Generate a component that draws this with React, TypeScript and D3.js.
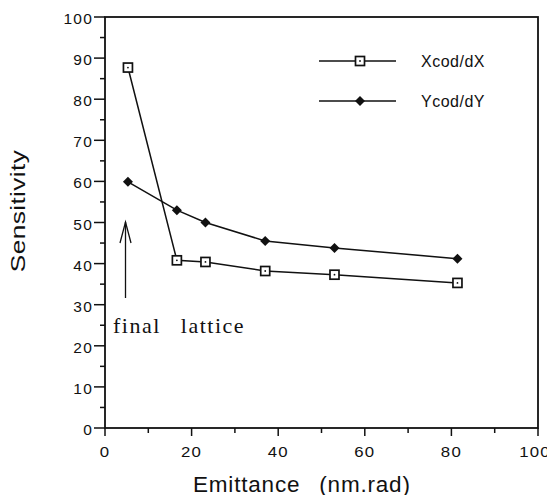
import React, { useEffect, useRef } from "react";
import * as d3 from "d3";

// values
const emittance = [5.3, 16.6, 23.2, 37, 53, 81.4];
const xcodValues = [87.7, 40.8, 40.4, 38.2, 37.3, 35.3];
const ycodValues = [59.9, 53.0, 50.0, 45.5, 43.8, 41.2];
const xTicks = [0, 20, 40, 60, 80, 100];
const yTicks = [0, 10, 20, 30, 40, 50, 60, 70, 80, 90, 100];
const seriesNames = ["Xcod/dX", "Ycod/dY"];

const App = () => {
	const svgRef = useRef<SVGSVGElement>(null);

	useEffect(() => {
		const W = 555;
		const H = 499;
		const margin = { top: 17, right: 17, bottom: 71, left: 105 };
		const width = W - margin.left - margin.right;
		const height = H - margin.top - margin.bottom;

		const root = d3.select(svgRef.current);
		root.selectAll("*").remove();
		root.attr("width", W).attr("height", H);
		root.append("rect").attr("width", W).attr("height", H).attr("fill", "#fff");

		const svg = root.append("g").attr("transform", `translate(${margin.left},${margin.top})`);

		const x = d3.scaleLinear().domain([0, 100]).range([0, width]);
		const y = d3.scaleLinear().domain([0, 100]).range([height, 0]);

		const font = "'Liberation Sans', Arial, sans-serif";

		// frame
		svg.append("rect")
			.attr("width", width)
			.attr("height", height)
			.attr("fill", "none")
			.attr("stroke", "#111")
			.attr("stroke-width", 1.8);

		// y ticks (major + minor)
		d3.range(0, 101, 5).forEach((v) => {
			const major = v % 10 === 0;
			svg.append("line")
				.attr("x1", major ? -11 : -5)
				.attr("x2", 0)
				.attr("y1", y(v))
				.attr("y2", y(v))
				.attr("stroke", "#111")
				.attr("stroke-width", 1.5);
		});
		svg.selectAll(".ylab")
			.data(yTicks)
			.join("text")
			.attr("x", -12)
			.attr("y", (d) => y(d) + 7)
			.attr("text-anchor", "end")
			.style("font-family", font)
			.style("font-size", "15.5px")
			.style("letter-spacing", "1.2px")
			.attr("fill", "#111")
			.text((d) => d);

		// x ticks (major + minor)
		d3.range(0, 101, 10).forEach((v) => {
			const major = v % 20 === 0;
			svg.append("line")
				.attr("x1", x(v))
				.attr("x2", x(v))
				.attr("y1", height)
				.attr("y2", height + (major ? 8 : 5))
				.attr("stroke", "#111")
				.attr("stroke-width", 1.5);
		});
		svg.selectAll(".xlab")
			.data(xTicks)
			.join("text")
			.attr("transform", (d) => `translate(${x(d) - (d === 100 ? 3 : 0)},${height + 28.5}) scale(1.2,1)`)
			.attr("text-anchor", "middle")
			.style("font-family", font)
			.style("font-size", "14px")
			.style("letter-spacing", "1px")
			.attr("fill", "#111")
			.text((d) => d);

		// axis titles
		root.append("text")
			.attr("x", 193)
			.attr("y", 492)
			.style("font-family", font)
			.style("font-size", "22.5px")
			.style("letter-spacing", "0.8px")
			.style("word-spacing", "12px")
			.attr("fill", "#111")
			.text("Emittance (nm.rad)");

		root.append("text")
			.attr("transform", "translate(25,211) rotate(-90) scale(1.25,1)")
			.attr("text-anchor", "middle")
			.style("font-family", font)
			.style("font-size", "21px")
			.style("letter-spacing", "0.3px")
			.attr("fill", "#111")
			.text("Sensitivity");

		const line = d3.line<number>()
			.x((d, i) => x(emittance[i]))
			.y((d) => y(d));

		const series = [xcodValues, ycodValues];
		series.forEach((vals) => {
			svg.append("path")
				.attr("d", line(vals))
				.attr("fill", "none")
				.attr("stroke", "#111")
				.attr("stroke-width", 1.5);
		});

		const drawSquare = (g, cx, cy) => {
			g.append("rect")
				.attr("x", cx - 4.5)
				.attr("y", cy - 4.5)
				.attr("width", 9)
				.attr("height", 9)
				.attr("fill", "#fff")
				.attr("stroke", "#111")
				.attr("stroke-width", 1.7);
			g.append("circle").attr("cx", cx).attr("cy", cy).attr("r", 0.9).attr("fill", "#111");
		};
		const drawDiamond = (g, cx, cy) => {
			g.append("path")
				.attr("d", `M${cx},${cy - 5}L${cx + 5},${cy}L${cx},${cy + 5}L${cx - 5},${cy}Z`)
				.attr("fill", "#111");
		};

		xcodValues.forEach((v, i) => drawSquare(svg, x(emittance[i]), y(v)));
		ycodValues.forEach((v, i) => drawDiamond(svg, x(emittance[i]), y(v)));

		// legend
		const legendY = [61, 101];
		seriesNames.forEach((name, i) => {
			root.append("line")
				.attr("x1", 319)
				.attr("x2", 396)
				.attr("y1", legendY[i])
				.attr("y2", legendY[i])
				.attr("stroke", "#111")
				.attr("stroke-width", 1.5);
			if (i === 0) drawSquare(root, 360, legendY[i]);
			else drawDiamond(root, 360, legendY[i]);
			root.append("text")
				.attr("x", 421)
				.attr("y", legendY[i] + 5.7)
				.style("font-family", font)
				.style("font-size", "16px")
				.style("letter-spacing", "0.5px")
				.attr("fill", "#111")
				.text(name);
		});

		// annotation: arrow + "final lattice"
		const ax = 125.5;
		root.append("line")
			.attr("x1", ax).attr("x2", ax)
			.attr("y1", 298).attr("y2", 222)
			.attr("stroke", "#111").attr("stroke-width", 1.3);
		root.append("path")
			.attr("d", `M${ax - 5.5},${243}L${ax},${222}L${ax + 5.5},${243}`)
			.attr("fill", "none")
			.attr("stroke", "#111")
			.attr("stroke-width", 1.3);
		root.append("text")
			.attr("x", 113)
			.attr("y", 333)
			.style("font-family", "'Liberation Serif', 'DejaVu Serif', serif")
			.style("font-size", "22px")
			.style("letter-spacing", "1.5px")
			.style("word-spacing", "13px")
			.attr("fill", "#111")
			.text("final lattice");
	}, []);

	return (
		<div style={{ margin: -8 }}>
			<svg ref={svgRef}></svg>
		</div>
	);
};

export default App;
